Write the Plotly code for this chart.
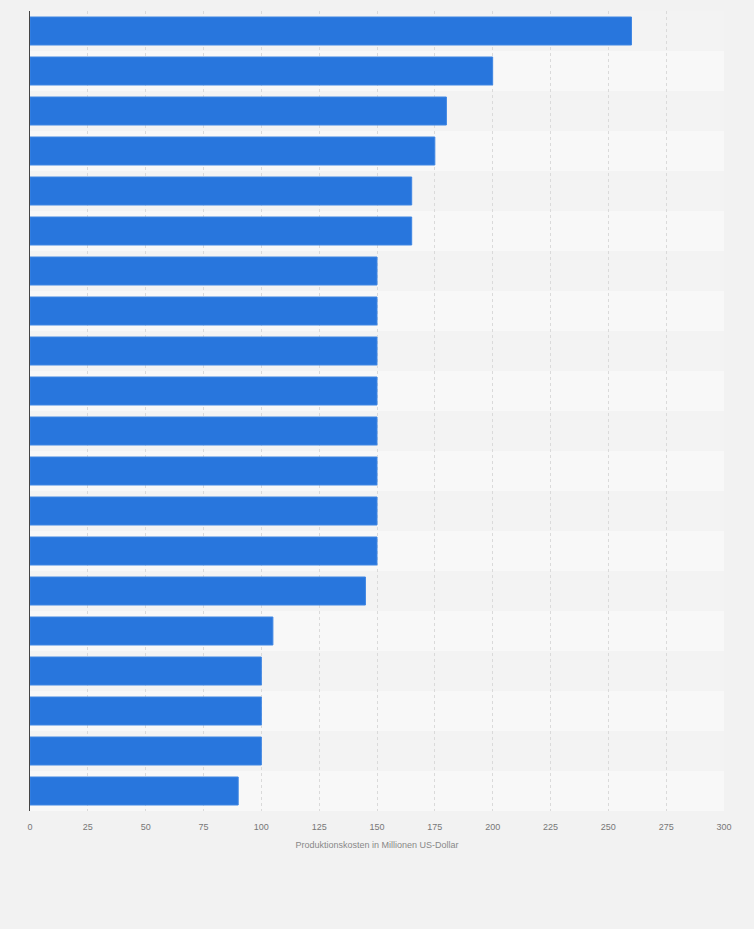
import plotly.graph_objects as go

ranks = [str(i) for i in range(1, 21)]
values = [260, 200, 180, 175, 165, 165, 150, 150, 150, 150, 150, 150, 150, 150, 145, 105, 100, 100, 100, 90]
x_ticks = [0, 25, 50, 75, 100, 125, 150, 175, 200, 225, 250, 275, 300]
x_title = "Produktionskosten in Millionen US-Dollar"

ypos = list(range(len(values)))

fig = go.Figure()
fig.add_trace(go.Bar(
    x=values, y=ypos, orientation="h", width=0.7,
    marker=dict(color="#2876dd", line=dict(color="#3f86e3", width=1)),
    hovertext=ranks, hoverinfo="x+text",
))

shapes = []
for i in ypos:
    shapes.append(dict(type="rect", xref="x", yref="y", x0=0, x1=300,
                       y0=i - 0.5, y1=i + 0.5, layer="below", line=dict(width=0),
                       fillcolor="#f3f3f3" if i % 2 == 0 else "#f8f8f8"))

fig.update_layout(
    width=754, height=929,
    margin=dict(l=30, r=30, t=11, b=118),
    paper_bgcolor="#f2f2f2", plot_bgcolor="#f2f2f2",
    showlegend=False,
    shapes=shapes,
    bargap=0.3,
    xaxis=dict(
        range=[0, 300], tickvals=x_ticks, ticktext=[str(t) for t in x_ticks],
        showgrid=True, gridcolor="#dadada", griddash="dot", gridwidth=1,
        zeroline=False, showline=False,
        ticks="outside", ticklen=7, tickcolor="rgba(0,0,0,0)",
        tickfont=dict(family="Liberation Sans, Arial", size=9, color="#777777"),
        title=dict(text=x_title, standoff=10,
                   font=dict(family="Liberation Sans, Arial", size=9, color="#888888")),
    ),
    yaxis=dict(
        range=[len(values) - 0.5, -0.5], showticklabels=False, showgrid=False,
        zeroline=False, showline=True, linecolor="#444444", linewidth=1.3, ticks="",
    ),
)

fig.write_html("out.html", config={"displayModeBar": False},
               post_script="document.body.style.margin='0';document.body.style.overflow='hidden';")
